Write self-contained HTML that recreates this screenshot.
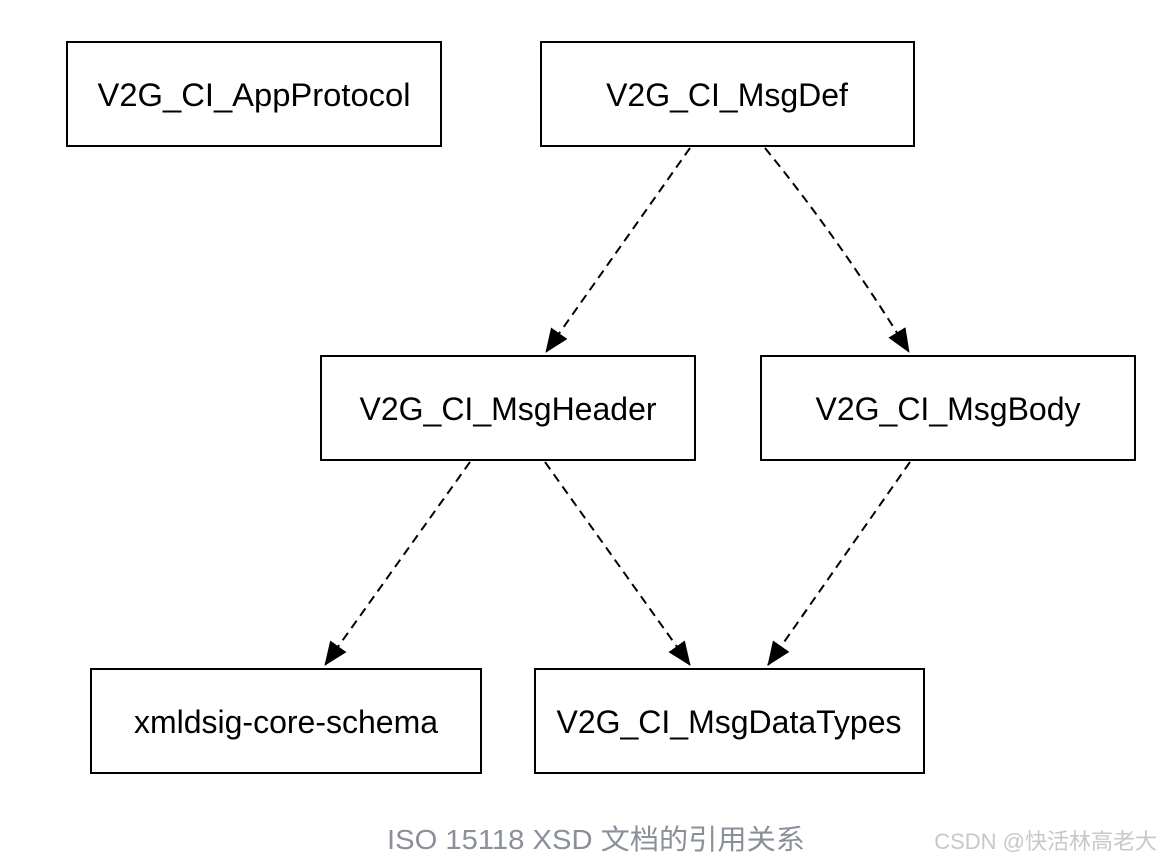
<!DOCTYPE html>
<html><head><meta charset="utf-8"><style>
html,body{margin:0;padding:0;background:#fff;width:1161px;height:862px;overflow:hidden}
</style></head><body>
<svg width="1161" height="862" viewBox="0 0 1161 862" xmlns="http://www.w3.org/2000/svg">
<defs>
<marker id="a" markerWidth="24" markerHeight="20" refX="23" refY="10" orient="auto" markerUnits="userSpaceOnUse" viewBox="0 0 24 20">
<path d="M0,0 L24,10 L0,20 Z" fill="#000"/>
</marker>
</defs>
<g fill="none" stroke="#000" stroke-width="2">
<rect x="67" y="42" width="374" height="104"/>
<rect x="541" y="42" width="373" height="104"/>
<rect x="321" y="356" width="374" height="104"/>
<rect x="761" y="356" width="374" height="104"/>
<rect x="91" y="669" width="390" height="104"/>
<rect x="535" y="669" width="389" height="104"/>
</g>
<g fill="none" stroke="#000" stroke-width="2" stroke-dasharray="9,6">
<line x1="690" y1="148" x2="546" y2="352" marker-end="url(#a)"/>
<path d="M765,148 Q840,240 909,352" marker-end="url(#a)"/>
<line x1="470" y1="462" x2="325" y2="665" marker-end="url(#a)"/>
<line x1="545" y1="462" x2="690" y2="665" marker-end="url(#a)"/>
<line x1="910" y1="462" x2="768" y2="665" marker-end="url(#a)"/>
</g>
<g font-family="Liberation Sans, sans-serif" font-size="32" text-anchor="middle" fill="#000">
<text x="254" y="106" textLength="313" lengthAdjust="spacingAndGlyphs">V2G_CI_AppProtocol</text>
<text x="727" y="106">V2G_CI_MsgDef</text>
<text x="508" y="420">V2G_CI_MsgHeader</text>
<text x="948" y="420">V2G_CI_MsgBody</text>
<text x="286" y="733">xmldsig-core-schema</text>
<text x="729" y="733">V2G_CI_MsgDataTypes</text>
</g>
<text x="596" y="849" text-anchor="middle" font-family="Liberation Sans, Noto Sans CJK SC, sans-serif" font-size="28" fill="#8a8f99" textLength="418" lengthAdjust="spacingAndGlyphs">ISO 15118 XSD 文档的引用关系</text>
<text x="1157" y="849" text-anchor="end" font-family="Liberation Sans, Noto Sans CJK SC, sans-serif" font-size="22" fill="#c8c8c8">CSDN @快活林高老大</text>
</svg>
</body></html>
